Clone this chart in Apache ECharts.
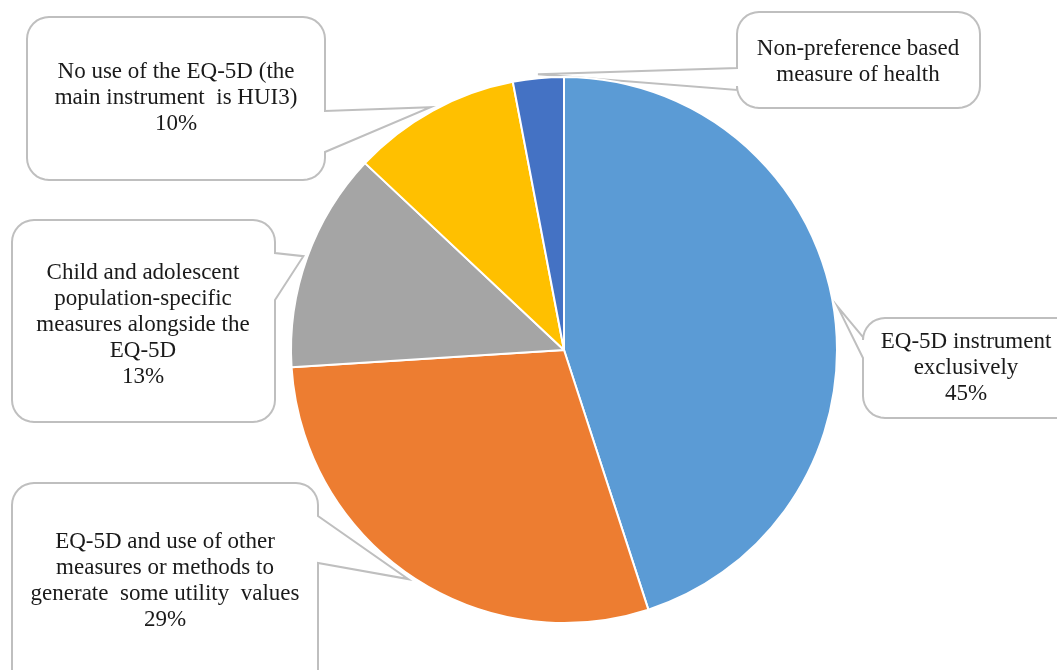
<!DOCTYPE html>
<html>
<head>
<meta charset="utf-8">
<script src="https://cdn.jsdelivr.net/npm/echarts@6/dist/echarts.min.js"></script>
<style>
  html, body { margin: 0; padding: 0; background: #fff; }
  #chart { width: 1057px; height: 670px; }
</style>
</head>
<body>
<div id="chart"></div>
<script>
// data
var names = [
    'EQ-5D instrument\nexclusively',
    'EQ-5D and use of other\nmeasures or methods to\ngenerate  some utility  values',
    'Child and adolescent\npopulation-specific\nmeasures alongside the\nEQ-5D',
    'No use of the EQ-5D (the\nmain instrument  is HUI3)',
    'Non-preference based\nmeasure of health'
];
var values = [45, 29, 13, 10, 3];
var showPct = [true, true, true, true, false];
var colors = ['#5B9BD5', '#ED7D31', '#A5A5A5', '#FFC000', '#4472C4'];

// callout boxes (layout only)
var callouts = [
    {box: [863, 318, 1080, 418], side: 'left', base: [337, 358], text: [966, 368]},
    {box: [12, 483, 318, 700], side: 'right', base: [516, 563], text: [165, 581]},
    {box: [12, 220, 275, 422], side: 'right', base: [253, 300], text: [143, 325]},
    {box: [27, 17, 325, 180], side: 'right', base: [111, 152], text: [176, 98]},
    {box: [737, 12, 980, 108], side: 'left', base: [68, 90], text: [858, 62]}
];

var cx = 564, cy = 350, R = 273;

var chart = echarts.init(document.getElementById('chart'));

// tip of callout = slice mid angle on the rim
function tipOf(i) {
    var total = values.reduce(function (a, b) { return a + b; }, 0);
    var cum = 0;
    for (var k = 0; k < i; k++) cum += values[k];
    var ang = (90 - 360 * (cum + values[i] / 2) / total) * Math.PI / 180;
    return [cx + (R + 4) * Math.cos(ang), cy - (R + 4) * Math.sin(ang)];
}

function corner(pts, x, y, a0, rr) {
    for (var s = 0; s <= 8; s++) {
        var a = (a0 + 90 * s / 8) * Math.PI / 180;
        pts.push([x + rr * Math.cos(a), y + rr * Math.sin(a)]);
    }
}

function calloutPoints(c, tip) {
    var x0 = c.box[0], y0 = c.box[1], x1 = c.box[2], y1 = c.box[3], rr = 22;
    var pts = [];
    corner(pts, x0 + rr, y0 + rr, 180, rr);      // top-left
    corner(pts, x1 - rr, y0 + rr, 270, rr);      // top-right
    if (c.side === 'right') {
        pts.push([x1, c.base[0]], tip, [x1, c.base[1]]);
    }
    corner(pts, x1 - rr, y1 - rr, 0, rr);        // bottom-right
    corner(pts, x0 + rr, y1 - rr, 90, rr);       // bottom-left
    if (c.side === 'left') {
        pts.push([x0, c.base[1]], tip, [x0, c.base[0]]);
    }
    return pts;
}

var graphics = callouts.map(function (c, i) {
    return {
        type: 'polygon',
        z: 0,
        silent: true,
        shape: {points: calloutPoints(c, tipOf(i))},
        style: {fill: '#fff', stroke: '#BFBFBF', lineWidth: 2}
    };
});

option = {
    backgroundColor: '#FFFFFF',
    animation: false,
    graphic: graphics,
    series: [{
        type: 'pie',
        z: 5,
        center: [cx, cy],
        radius: R,
        startAngle: 90,
        clockwise: true,
        silent: true,
        itemStyle: {borderColor: '#fff', borderWidth: 2},
        label: {
            show: true,
            position: 'inside',
            overflow: 'none',
            fontFamily: 'Liberation Serif',
            fontSize: 23,
            lineHeight: 26,
            color: '#1a1a1a',
            align: 'center',
            formatter: function (p) {
                return showPct[p.dataIndex] ? p.name + '\n' + p.value + '%' : p.name;
            }
        },
        labelLine: {show: false},
        labelLayout: function (p) {
            var t = callouts[p.dataIndex].text;
            return {x: t[0], y: t[1], align: 'center', verticalAlign: 'middle'};
        },
        data: names.map(function (n, i) {
            return {name: n, value: values[i], itemStyle: {color: colors[i]}};
        })
    }]
};

chart.setOption(option);
</script>
</body>
</html>
